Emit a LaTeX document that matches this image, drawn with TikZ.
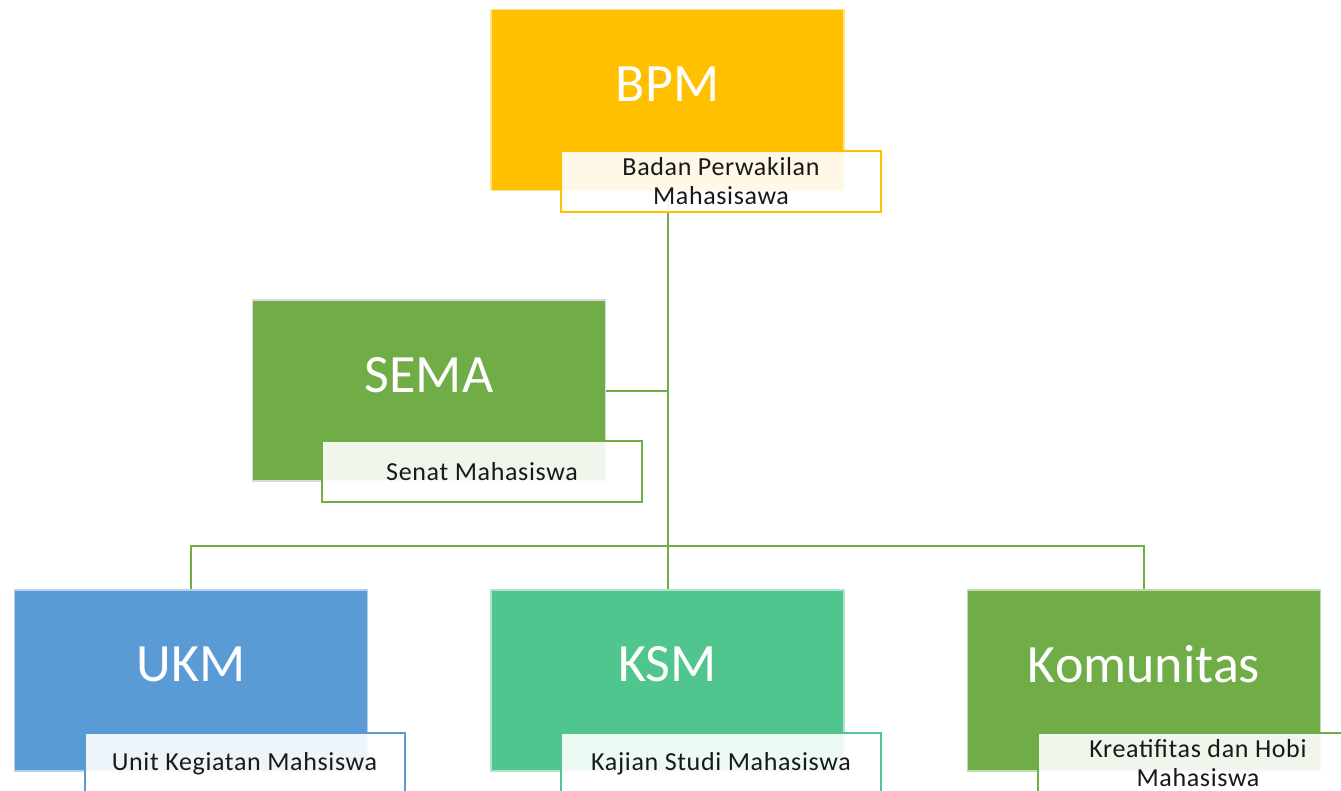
\documentclass[tikz,border=0pt]{standalone}
\usepackage{fontspec}
\setmainfont{Carlito}
\newfontfamily\lblfont[LetterSpace=2.5]{Carlito}
\usetikzlibrary{backgrounds}
\definecolor{cbpm}{HTML}{FFC000}
\definecolor{cgreen}{HTML}{70AD47}
\definecolor{cblue}{HTML}{5B9BD5}
\definecolor{cksm}{HTML}{50C68E}
\definecolor{cline}{HTML}{70AD47}
\tikzset{
  mainbox/.style={rectangle, minimum width=353pt, minimum height=181pt, inner sep=0pt, line width=1.5pt},
  bigtext/.style={text=white, font=\fontsize{54}{60}\selectfont, inner sep=0pt},
  labelbox/.style={rectangle, draw=#1, line width=2pt, fill=white, fill opacity=0.9, text opacity=1,
     minimum width=320pt, minimum height=61pt, inner sep=0pt, align=center,
     font=\lblfont\fontsize{26}{29}\selectfont, text=black!90},
  conn/.style={draw=cline, line width=2pt}
}
\begin{document}
\begin{tikzpicture}[x=1pt,y=-1pt]
\useasboundingbox (0,0) rectangle (1341,790);
\clip (0,0) rectangle (1341,790);
% main boxes
\node[mainbox, fill=cbpm, draw=cbpm!45!white] (bpm) at (667.5,100) {};
\node[mainbox, fill=cgreen, draw=black!15] (sema) at (429,390.5) {};
\node[mainbox, fill=cblue, draw=cblue!45!white] (ukm) at (191,680.5) {};
\node[mainbox, fill=cksm, draw=cksm!45!white] (ksm) at (667.5,680.5) {};
\node[mainbox, fill=cgreen, draw=cgreen!45!white] (kom) at (1144,680.5) {};
% titles
\node[bigtext] (bpmT) at ([yshift=-75pt]bpm.north) {BPM};
\node[bigtext] (semaT) at ([yshift=-76pt]sema.north) {SEMA};
\node[bigtext] (ukmT) at ([yshift=-75pt]ukm.north) {UKM};
\node[bigtext] (ksmT) at ([yshift=-75pt]ksm.north) {KSM};
\node[bigtext] (komT) at ([yshift=-75pt]kom.north) {Komunitas};
% labels
\node[labelbox=cbpm] (bpmL) at (721,181.5) {Badan Perwakilan\\Mahasisawa};
\node[labelbox=cgreen] (semaL) at (482,471.5) {Senat Mahasiswa};
\node[labelbox=cblue] (ukmL) at (244.5,763.5) {Unit Kegiatan Mahsiswa};
\node[labelbox=cksm] (ksmL) at (721,763.5) {Kajian Studi Mahasiswa};
\node[labelbox=cgreen] (komL) at (1198,763.5) {Kreatifitas dan Hobi\\Mahasiswa};
% connectors
\coordinate (bus) at (667.5,546);
\begin{scope}[on background layer]
\draw[conn] (bpm.south) -- (ksm.north);
\draw[conn] (sema.east) -- (sema.east -| bpm.south);
\draw[conn] (ukm.north) |- (bus) -| (kom.north);
\end{scope}
\end{tikzpicture}
\end{document}
